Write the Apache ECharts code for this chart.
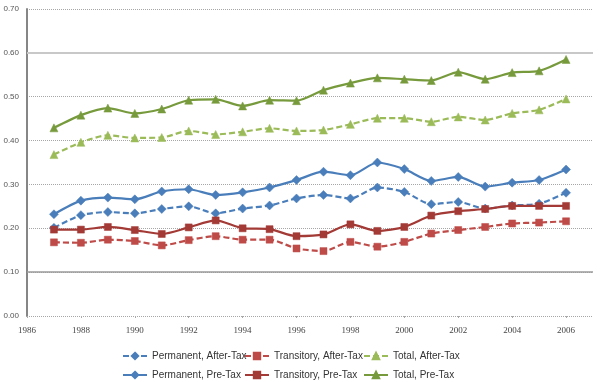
<!DOCTYPE html>
<html>
<head>
<meta charset="utf-8">
<script src="https://cdn.jsdelivr.net/npm/echarts@6/dist/echarts.min.js"></script>
<style>html,body{margin:0;padding:0;background:#fff;}#c{width:600px;height:382px;}</style>
</head>
<body>
<div id="c"></div>
<script>
var years = [1987,1988,1989,1990,1991,1992,1993,1994,1995,1996,1997,1998,1999,2000,2001,2002,2003,2004,2005,2006];
var permanentAfterTax = [0.201,0.230,0.237,0.234,0.244,0.250,0.234,0.245,0.252,0.268,0.276,0.268,0.293,0.283,0.255,0.260,0.245,0.252,0.256,0.281];
var transitoryAfterTax = [0.168,0.167,0.174,0.171,0.161,0.173,0.182,0.174,0.174,0.154,0.148,0.169,0.158,0.169,0.188,0.196,0.203,0.211,0.213,0.216];
var totalAfterTax = [0.368,0.396,0.412,0.406,0.407,0.422,0.414,0.420,0.428,0.422,0.424,0.437,0.451,0.451,0.443,0.454,0.447,0.462,0.470,0.495];
var permanentPreTax = [0.232,0.263,0.270,0.266,0.284,0.289,0.276,0.282,0.293,0.310,0.329,0.321,0.350,0.335,0.308,0.317,0.295,0.304,0.310,0.334];
var transitoryPreTax = [0.197,0.197,0.203,0.196,0.187,0.202,0.218,0.200,0.198,0.182,0.186,0.209,0.194,0.203,0.229,0.239,0.244,0.251,0.251,0.251];
var totalPreTax = [0.429,0.458,0.474,0.462,0.472,0.492,0.494,0.479,0.492,0.491,0.515,0.531,0.543,0.540,0.537,0.556,0.540,0.555,0.559,0.585];
var seriesNames = ['Permanent, After-Tax','Transitory, After-Tax','Total, After-Tax','Permanent, Pre-Tax','Transitory, Pre-Tax','Total, Pre-Tax'];
var yTicks = [0,0.1,0.2,0.3,0.4,0.5,0.6,0.7];

function pairs(v){ return years.map(function(y,i){ return [y, v[i]]; }); }

var styles = [
  {data: permanentAfterTax, color:'#4A7EBB', symbol:'diamond', size:9, dash:true},
  {data: transitoryAfterTax, color:'#BE4B48', symbol:'rect', size:7, dash:true},
  {data: totalAfterTax, color:'#9BBB59', symbol:'triangle', size:8, dash:true},
  {data: permanentPreTax, color:'#4A7EBB', symbol:'diamond', size:9, dash:false},
  {data: transitoryPreTax, color:'#A33A36', symbol:'rect', size:7, dash:false},
  {data: totalPreTax, color:'#779A3C', symbol:'triangle', size:8, dash:false}
];

var series = styles.map(function(s, i){
  return {
    name: seriesNames[i],
    type: 'line',
    data: pairs(s.data),
    smooth: 0.25,
    symbol: s.symbol,
    symbolSize: s.size,
    showSymbol: true,
    color: s.color,
    lineStyle: {color: s.color, width: 2.2, type: s.dash ? [6,3] : 'solid'},
    itemStyle: {color: s.color, borderColor: s.color, borderWidth: 0.5},
    emphasis: {disabled: true},
    z: 3 + i
  };
});

series[0].markLine = {
  silent: true, symbol: 'none', label: {show: false},
  data: [{yAxis: 0.1, lineStyle: {color:'#9a9a9a', width: 1.5, type:'solid'}}, {yAxis: 0.6, lineStyle:{color:'#c8c8c8', width: 2, type:'solid'}}],
  z: 1
};

var legendText = {fontFamily: 'Liberation Sans, Arial, sans-serif', fontSize: 10, color: '#333'};
var legendLefts = [117, 239, 358];
var legendTops = [346, 365];
var legends = seriesNames.map(function(n, i){
  return {data: [n], left: legendLefts[i % 3], top: legendTops[Math.floor(i / 3)], itemWidth: 24, itemHeight: 8, textStyle: legendText};
});

var chart = echarts.init(document.getElementById('c'), null, {renderer: 'canvas'});
chart.setOption({
  animation: false,
  backgroundColor: '#fff',
  grid: {left: 27, right: 7, top: 9, bottom: 66},
  xAxis: {
    type: 'value', min: 1986, max: 2007, interval: 2,
    axisLine: {show: false},
    axisTick: {show: true, length: 2, lineStyle: {color: '#aaa'}},
    splitLine: {show: false},
    axisLabel: {
      showMaxLabel: false,
      fontFamily: 'Liberation Serif, serif', fontSize: 9, color: '#444', margin: 10,
      formatter: function(v){ return v > 2006 ? '' : String(v); }
    }
  },
  yAxis: {
    type: 'value', min: yTicks[0], max: yTicks[yTicks.length-1], interval: 0.1,
    axisLine: {show: true, lineStyle: {color: '#868686', width: 2}},
    axisTick: {show: false},
    splitLine: {show: true, lineStyle: {color: '#a6a6a6', type: 'dotted', width: 1}},
    axisLabel: {
      fontFamily: 'Liberation Sans, Arial, sans-serif', fontSize: 8, color: '#555', margin: 8,
      formatter: function(v){ return v.toFixed(2); }
    }
  },
  legend: legends,
  series: series
});
</script>
</body>
</html>
